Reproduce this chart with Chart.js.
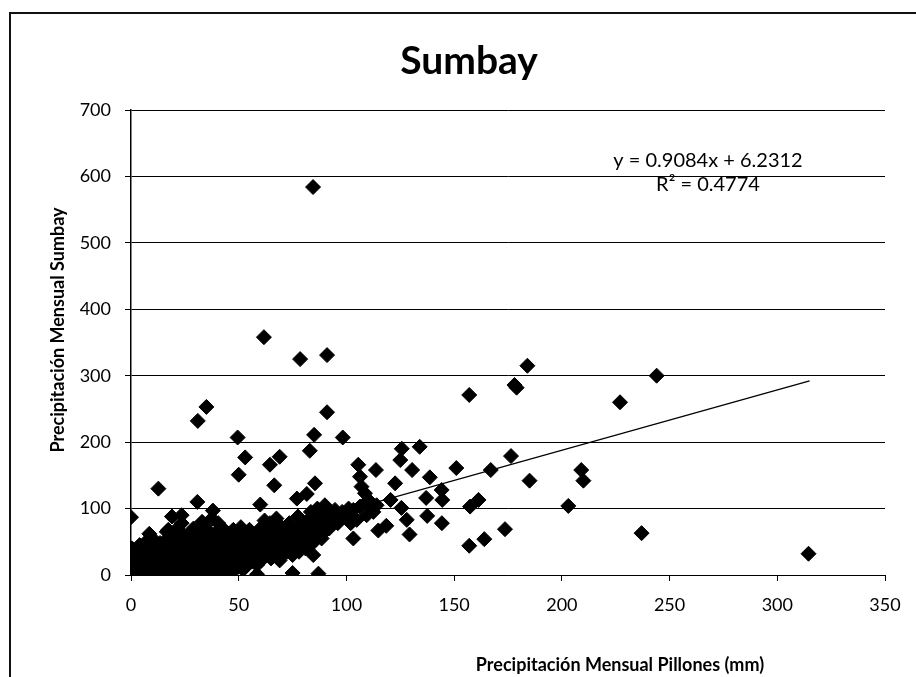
<!DOCTYPE html>
<html><head><meta charset="utf-8">
<script src="https://cdn.jsdelivr.net/npm/chart.js@4/dist/chart.umd.min.js"></script>
<style>html,body{margin:0;padding:0;background:#fff;} canvas{display:block;}</style>
</head><body>
<canvas id="c" width="916" height="677"></canvas>
<script>
// ---- DATA ----
const chartTitle = "Sumbay";
const xAxisTitle = "Precipitación Mensual Pillones (mm)";
const yAxisTitle = "Precipitación Mensual Sumbay";
const equationText = "y = 0.9084x + 6.2312";
const r2Text = "R² = 0.4774";
const xTicks = [0, 50, 100, 150, 200, 250, 300, 350];
const yTicks = [0, 100, 200, 300, 400, 500, 600, 700];

// Pillones (x) and Sumbay (y) monthly precipitation, paired by index
const pillones = [
  84.5,61.7,78.5,91,184,178,179,244,157,227,35,31,91,49.5,98.3,85,83,53,69,64.5,50,66.5,85.4,12.7,30.8,
  0,8.5,38,77,81.6,60,19,23.5,16.6,84.6,75,87,58.5,90,94.7,99.4,88.5,69,40.5,28,17.3,
  209,210,203,237,314.5,125.7,134,125,130.5,105.5,113.7,151,176.4,167,185,138.7,122.6,144.2,144.5,137,120.5,125.5,157.4,161.3,137.5,128,118.5,114.8,129.3,144.3,103.2,173.6,164,157,
  106.3,107,108.6,110.2,111.7,106.3,103.2,112.5,109.4,104.8,114,100,92,96,
  0,0,0,0,0,0.5,1,1,1.5,2,2,2.5,3,3,3.5,4,4,4.5,5,5,
  5.5,6,6,6.5,7,7,7.5,8,8,8.5,9,9,9.5,10,10,
  10.5,11,11,11.5,12,12,12.5,13,13.5,14,14,14.5,15,15,
  15.5,16,16,16.5,17,17.5,18,18,18.5,19,19,19.5,20,
  20.5,21,21,21.5,22,22,22.5,23,23.5,24,24,24.5,25,
  25.5,26,26,26.5,27,27.5,28,28,28.5,29,29.5,30,30,
  30.5,31,31,31.5,32,32,32.5,33,33,33.5,34,34.5,35,35,
  35.5,36,36,36.5,37,37,37.5,38,38,38.5,39,39.5,40,40,
  40.5,41,41,41.5,42,42,42.5,43,43,43.5,44,44.5,45,45,
  45.5,46,46,46.5,47,47.5,48,48,48.5,49,49.5,50,50,
  50.5,51,51,51.5,52,52,52.5,53,53,53.5,54,54.5,55,55,
  55.5,56,56,56.5,57,57.5,58,58,58.5,59,59.5,60,60,
  60.5,61,61.5,62,62,62.5,63,63.5,64,64.5,65,65,65.5,66,66.5,67,67.5,68,68.5,69,69.5,70,70,
  70.5,71,71.5,72,72.5,73,73.5,74,74.5,75,75,75.5,76,76.5,77,77.5,78,78,78.5,79,79.5,80,
  80.5,81,81.5,82,82.5,83,83.5,84,84.5,85,85.5,86,86.5,87,87.5,88,88.5,89,89.5,90,91,92,93,94,95,96,97,98,100,101,102
];
const sumbay = [
  584,358,325,331,315,286,282,300,271,260,253,232,245,207,207,211,187,177,178,166,151,135,138,130,110,
  87,62,97,115,122,106,88,90,65,30,3,2,1,105,98,93,55,22,78,65,68,
  158,142,104,63,32,190,193,173,158,166,158,161,179,158,142,147,138,128,113,116,113,101,103,113,89,83,74,67,61,78,55,69,54,44,
  148,133,123,113,105,103,98,95,90,83,105,93,90,85,
  2,8,15,22,30,40,5,28,12,0,18,35,3,25,10,45,0,20,6,30,
  14,38,2,22,9,50,30,0,16,42,25,5,35,12,55,
  3,28,45,18,8,36,0,24,48,14,32,5,40,20,
  10,52,28,2,16,36,8,45,24,0,58,14,32,
  6,42,20,70,12,50,2,28,78,36,8,60,18,
  45,0,26,55,12,36,5,48,22,70,32,15,58,
  40,4,25,50,62,14,35,80,8,45,28,56,18,70,
  38,2,48,25,60,12,85,35,6,52,20,42,65,10,
  30,50,3,22,40,72,14,58,32,6,45,24,62,38,
  15,52,30,5,42,68,22,55,35,10,48,28,62,
  40,18,72,52,32,8,45,25,60,38,15,50,30,68,
  42,20,58,35,48,25,62,40,15,52,30,45,70,
  22,58,38,82,28,50,65,35,45,78,25,55,40,68,32,50,85,42,60,35,48,72,30,
  55,40,65,48,35,58,78,44,62,30,52,70,40,58,48,88,35,65,55,42,72,50,
  62,40,80,55,68,45,95,60,75,50,85,65,100,58,78,70,90,62,82,75,95,70,85,80,92,78,88,95,85,100,78
];
// Linear trendline endpoints (Excel trendline over data range)
const trendX = [0, 315];
const trendY = [6.23, 292.4];

// ---- CHART ----
const FONT = "Lato, 'Noto Sans', sans-serif";
const points = pillones.map((x, i) => ({ x: x, y: sumbay[i] }));
const trend = trendX.map((x, i) => ({ x: x, y: trendY[i] }));

const decor = {
  id: 'decor',
  afterDraw(chart) {
    const ctx = chart.ctx;
    ctx.save();
    // outer frame (left and top edges visible in reference)
    ctx.strokeStyle = '#111';
    ctx.lineWidth = 2;
    ctx.beginPath();
    ctx.moveTo(10, 677); ctx.lineTo(10, 13); ctx.lineTo(916, 13);
    ctx.stroke();
    ctx.fillStyle = '#000';
    // title
    ctx.font = "bold 39px " + FONT;
    ctx.textAlign = 'center'; ctx.textBaseline = 'middle';
    ctx.fillText(chartTitle, 469, 61);
    // x-axis title
    ctx.font = "bold 18px " + FONT;
    ctx.fillText(xAxisTitle, 620, 665);
    // y-axis title
    ctx.save();
    ctx.translate(58, 330);
    ctx.rotate(-Math.PI / 2);
    ctx.font = "bold 18px " + FONT;
    ctx.fillText(yAxisTitle, 0, 0);
    ctx.restore();
    // trendline label
    ctx.font = "20px " + FONT;
    ctx.fillText(equationText, 708, 161);
    ctx.fillText(r2Text, 708, 185);
    ctx.restore();
  }
};

new Chart(document.getElementById('c'), {
  type: 'scatter',
  data: {
    datasets: [
      {
        type: 'line',
        label: 'Linear',
        data: trend,
        borderColor: '#000',
        borderWidth: 1.3,
        pointRadius: 0,
        fill: false,
        order: 0
      },
      {
        label: 'Sumbay',
        data: points,
        pointStyle: 'rectRot',
        pointRadius: 7.5,
        pointBackgroundColor: '#000',
        pointBorderColor: '#000',
        pointBorderWidth: 1,
        order: 1
      }
    ]
  },
  options: {
    responsive: false,
    animation: false,
    devicePixelRatio: 1,
    layout: { padding: { top: 110, right: 31, bottom: 0, left: 0 } },
    plugins: { legend: { display: false }, tooltip: { enabled: false }, title: { display: false } },
    scales: {
      x: {
        type: 'linear', min: 0, max: 350,
        afterBuildTicks(s) { s.ticks = xTicks.map(v => ({ value: v })); },
        afterFit(s) { s.height = 102; },
        ticks: { color: '#000', font: { family: FONT, size: 18 }, padding: 13, maxRotation: 0 },
        grid: { display: true, drawOnChartArea: false, drawTicks: true, tickLength: 6, color: '#000', lineWidth: 1 },
        border: { display: true, color: '#000', width: 1 }
      },
      y: {
        type: 'linear', min: 0, max: 700,
        afterBuildTicks(s) { s.ticks = yTicks.map(v => ({ value: v })); },
        afterFit(s) { s.width = 131; },
        ticks: { color: '#000', font: { family: FONT, size: 18 }, padding: 14 },
        grid: { display: true, drawOnChartArea: true, drawTicks: true, tickLength: 6, color: '#000', lineWidth: 1 },
        border: { display: true, color: '#000', width: 1.5 }
      }
    }
  },
  plugins: [decor]
});
</script></body></html>
